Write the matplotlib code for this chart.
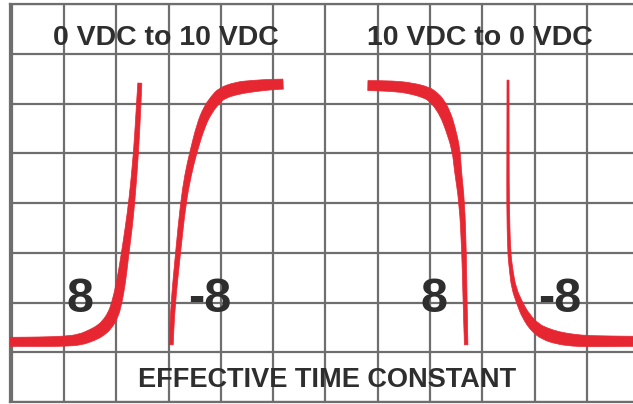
import matplotlib
matplotlib.use('Agg')
import matplotlib.pyplot as plt
from matplotlib.patches import PathPatch
from matplotlib.path import Path
import numpy as np

# curves, in grid units (x: columns, y: rows from bottom)
# "0 VDC to 10 VDC", time constant 8
up8_x = [-0.04, 0.54, 1.00, 1.31, 1.55, 1.69, 1.82, 1.94, 2.01, 2.09, 2.17, 2.24, 2.30, 2.38, 2.43, 2.45]
up8_y = [1.21, 1.21, 1.22, 1.25, 1.35, 1.43, 1.55, 1.75, 1.99, 2.39, 2.99, 3.52, 4.06, 5.03, 6.01, 6.41]
up8_w = [9, 9.5, 10, 11, 12, 12, 12, 11, 10, 9, 7.5, 7, 6, 5, 4.5, 4]

# "0 VDC to 10 VDC", time constant -8
upm8_x = [3.05, 3.08, 3.18, 3.28, 3.37, 3.47, 3.62, 3.75, 3.89, 4.02, 4.31, 4.61, 4.94, 5.19]
upm8_y = [1.15, 1.91, 3.00, 4.00, 4.56, 5.01, 5.57, 5.87, 6.07, 6.21, 6.31, 6.35, 6.38, 6.39]
upm8_w = [4, 4.3, 5, 5.5, 6.5, 7, 8.5, 10, 11, 12, 12.5, 11.5, 10.5, 10]

# "10 VDC to 0 VDC", time constant 8
dn8_x = [6.81, 7.29, 7.62, 7.94, 8.06, 8.17, 8.29, 8.38, 8.50, 8.53, 8.61, 8.65, 8.67, 8.69]
dn8_y = [6.36, 6.35, 6.31, 6.22, 6.13, 6.01, 5.79, 5.53, 5.07, 4.66, 4.00, 3.02, 1.99, 1.15]
dn8_w = [10, 10.5, 11, 12, 12, 12, 11, 10, 8, 7, 5.5, 4.5, 4, 3.5]

# "10 VDC to 0 VDC", time constant -8
dnm8_x = [9.49, 9.49, 9.49, 9.51, 9.55, 9.60, 9.72, 9.83, 10.01, 10.20, 10.43, 10.73, 11.06, 11.95]
dnm8_y = [6.47, 4.86, 4.00, 3.02, 2.65, 2.29, 1.97, 1.73, 1.49, 1.37, 1.29, 1.24, 1.22, 1.22]
dnm8_w = [2, 2.3, 2.6, 3, 3.5, 4.5, 6, 8, 10.5, 12.5, 12.5, 12, 11, 10]

titles = ['0 VDC to 10 VDC', '10 VDC to 0 VDC']
title_x = [2.95, 8.95]
labels = ['8', '-8', '8', '-8']
label_x = [1.31, 3.78, 8.08, 10.47]
xlabel = 'EFFECTIVE TIME CONSTANT'

RED = '#e62631'
GRID = '#6e6e6e'
INK = '#2e2e2e'
FONT = 'Liberation Sans'


def smooth_side(p):
    # quadratic bezier pieces: read points act as control points,
    # midpoints between them as the on-curve points
    verts = [p[0]]
    codes = [Path.LINETO]
    mids = (p[:-1] + p[1:]) / 2
    verts.append(mids[0])
    codes.append(Path.LINETO)
    for i in range(1, len(p) - 1):
        verts += [p[i], mids[i]]
        codes += [Path.CURVE3, Path.CURVE3]
    verts.append(p[-1])
    codes.append(Path.LINETO)
    return verts, codes


def band(ax, xs, ys, ws):
    # red stroke whose thickness (pixels) changes along its length
    pts = ax.transData.transform(np.column_stack([xs, ys]))
    w = np.asarray(ws, dtype=float) / 2
    tang = np.gradient(pts, axis=0)
    tang /= np.linalg.norm(tang, axis=1)[:, None]
    norm = np.column_stack([-tang[:, 1], tang[:, 0]])
    left = pts + norm * w[:, None]
    right = (pts - norm * w[:, None])[::-1]
    v1, c1 = smooth_side(left)
    v2, c2 = smooth_side(right)
    c1[0] = Path.MOVETO
    verts = np.array(v1 + v2 + [left[0]])
    codes = c1 + c2 + [Path.CLOSEPOLY]
    verts = ax.transData.inverted().transform(verts)
    ax.add_patch(PathPatch(Path(verts, codes), facecolor=RED,
                           edgecolor=RED, linewidth=0.5, zorder=3))


fig = plt.figure(figsize=(6.33, 4.04), dpi=100)
ax = fig.add_axes([9.5 / 633, 2 / 404, 1 - 9.5 / 633, 398 / 404])
ax.set_xlim(-0.042, 11.88)
ax.set_ylim(0, 8)

ax.set_xticks(range(0, 12))
ax.set_yticks(range(0, 9))
ax.tick_params(length=0, labelbottom=False, labelleft=False)
ax.grid(True, color=GRID, linewidth=1.6)
ax.set_axisbelow(True)
for side in ['left', 'top', 'bottom']:
    ax.spines[side].set_color(GRID)
    ax.spines[side].set_linewidth(1.6)
ax.spines['right'].set_visible(False)

band(ax, up8_x, up8_y, up8_w)
band(ax, upm8_x, upm8_y, upm8_w)
band(ax, dn8_x, dn8_y, dn8_w)
band(ax, dnm8_x, dnm8_y, dnm8_w)

for t, x in zip(titles, title_x):
    ax.text(x, 7.18, t, ha='center', va='baseline', fontsize=20.5,
            fontweight='bold', color=INK, family=FONT, zorder=4)
for t, x in zip(labels, label_x):
    ax.text(x, 1.81, t, ha='center', va='baseline', fontsize=35,
            fontweight='bold', color=INK, family=FONT, zorder=4)
ax.text(6.03, 0.30, xlabel, ha='center', va='baseline', fontsize=19.5,
        fontweight='bold', color=INK, family=FONT, zorder=4)

fig.savefig('out.png', dpi=100)
